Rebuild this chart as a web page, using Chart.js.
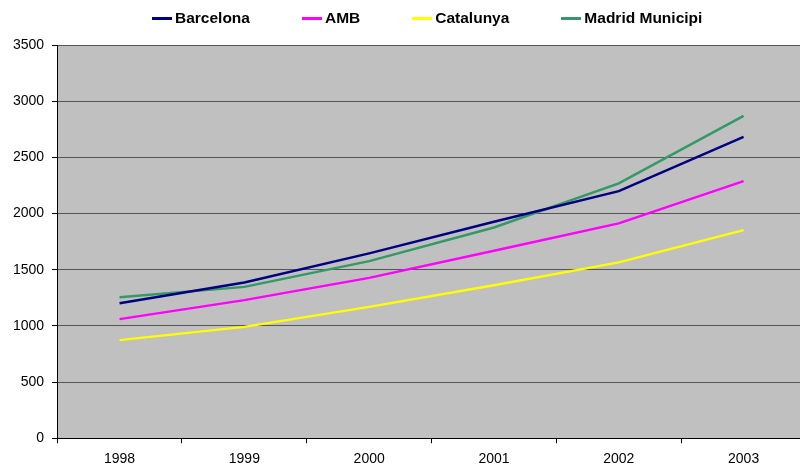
<!DOCTYPE html>
<html>
<head>
<meta charset="utf-8">
<script src="https://cdn.jsdelivr.net/npm/chart.js@4"></script>
<style>
  html, body { margin: 0; padding: 0; background: #fff; overflow: hidden; }
  #wrap { position: relative; width: 806px; height: 476px; }
  #legend {
    position: absolute; top: 9px; left: 152px;
    display: flex; align-items: center;
    font-family: 'Liberation Sans', Arial, sans-serif;
    font-weight: bold; font-size: 15.5px; color: #000;
    white-space: nowrap;
  }
  #legend .item { display: flex; align-items: center; margin-right: 52px; }
  #legend .swatch { display: inline-block; width: 20px; height: 3px; margin-right: 3px; }
</style>
</head>
<body>
<div id="wrap">
  <div id="legend"></div>
  <canvas id="chart"></canvas>
</div>
<script>
const years = ['1998', '1999', '2000', '2001', '2002', '2003'];
const barcelona = [1202, 1386, 1645, 1926, 2199, 2683];
const amb = [1060, 1229, 1427, 1668, 1912, 2288];
const catalunya = [873, 991, 1169, 1362, 1565, 1852];
const madrid = [1255, 1347, 1576, 1876, 2268, 2870];
const yTicks = [0, 500, 1000, 1500, 2000, 2500, 3000, 3500];

// grey plot background like the old Excel chart
const plotBg = {
    id: 'plotBg',
    beforeDraw(chart) {
        const a = chart.chartArea;
        const ctx = chart.ctx;
        ctx.save();
        ctx.fillStyle = '#C0C0C0';
        ctx.fillRect(a.left, a.top, a.right - a.left, a.bottom - a.top);
        ctx.restore();
    }
};

function series(label, data, color) {
    return {
        label: label,
        data: data,
        borderColor: color,
        backgroundColor: color,
        borderWidth: 2.5,
        pointRadius: 0,
        tension: 0,
        fill: false
    };
}

const chart = new Chart(document.getElementById('chart'), {
    type: 'line',
    data: {
        labels: years,
        datasets: [
            series('Barcelona', barcelona, '#000080'),
            series('AMB', amb, '#FF00FF'),
            series('Catalunya', catalunya, '#FFFF00'),
            series('Madrid Municipi', madrid, '#339966')
        ]
    },
    plugins: [plotBg],
    options: {
        responsive: true,
        maintainAspectRatio: false,
        animation: false,
        layout: { padding: { top: 45, right: 0, bottom: 0, left: 5 } },
        plugins: {
            legend: { display: false },
            tooltip: { enabled: false }
        },
        scales: {
            x: {
                offset: true,
                grid: {
                    offset: true,
                    drawOnChartArea: false,
                    drawTicks: true,
                    tickLength: 5,
                    color: '#000'
                },
                border: { color: '#000', width: 1 },
                ticks: {
                    color: '#000',
                    padding: 8,
                    maxRotation: 0,
                    font: { family: 'Liberation Sans, Arial', size: 14 }
                }
            },
            y: {
                min: 0,
                max: 3500,
                afterBuildTicks(axis) {
                    axis.ticks = yTicks.map(v => ({ value: v }));
                },
                grid: {
                    color: '#555',
                    lineWidth: 1,
                    tickLength: 5,
                    tickColor: '#000'
                },
                border: { color: '#000', width: 1 },
                ticks: {
                    color: '#000',
                    padding: 8,
                    callback: v => String(v),
                    font: { family: 'Liberation Sans, Arial', size: 14 }
                }
            }
        }
    }
});

// legend as html, same order and colours as the datasets
const legendEl = document.getElementById('legend');
chart.data.datasets.forEach(ds => {
    const item = document.createElement('span');
    item.className = 'item';
    const sw = document.createElement('span');
    sw.className = 'swatch';
    sw.style.background = ds.borderColor;
    item.appendChild(sw);
    item.appendChild(document.createTextNode(ds.label));
    legendEl.appendChild(item);
});
</script>
</body>
</html>
